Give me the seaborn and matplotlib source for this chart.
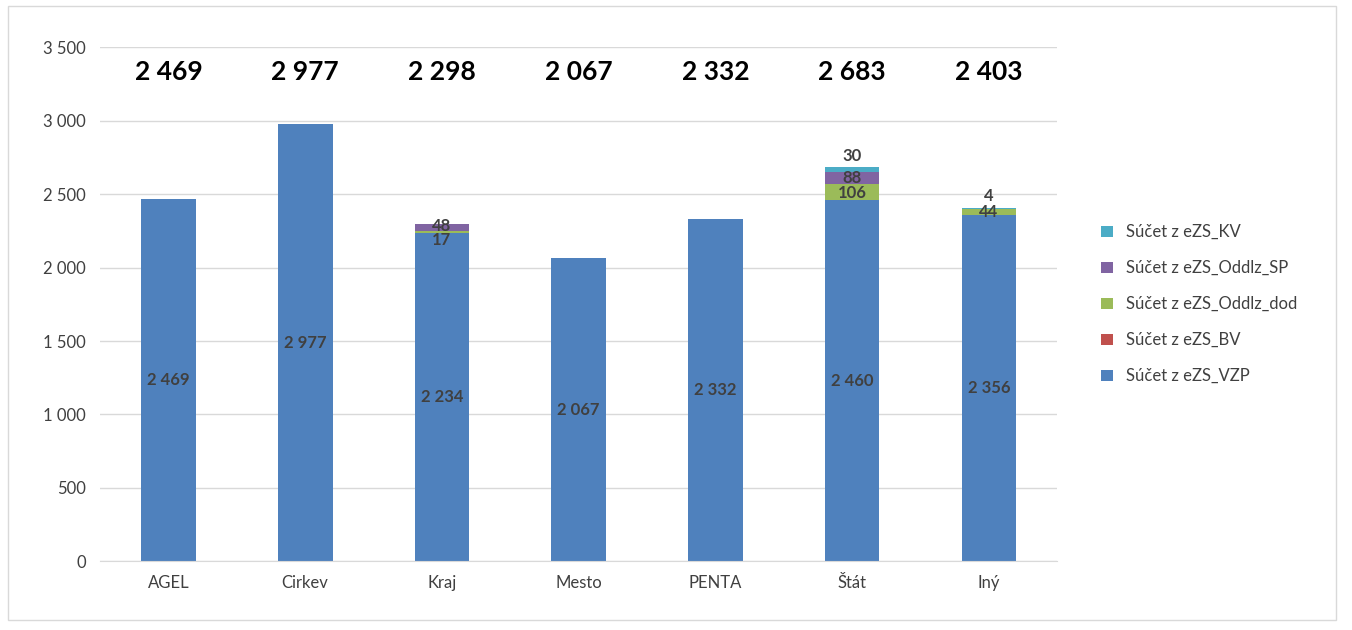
import matplotlib
matplotlib.use("Agg")
import matplotlib.pyplot as plt
import seaborn as sns
import numpy as np
import pandas as pd
from matplotlib.patches import Rectangle

categories = ["AGEL", "Cirkev", "Kraj", "Mesto", "PENTA", "Štát", "Iný"]
vzp = [2469, 2977, 2234, 2067, 2332, 2460, 2356]
bv = [0, 0, 0, 0, 0, 0, 0]
oddlz_dod = [0, 0, 17, 0, 0, 106, 44]
oddlz_sp = [0, 0, 48, 0, 0, 88, 0]
kv = [0, 0, 0, 0, 0, 30, 4]
totals = [2469, 2977, 2298, 2067, 2332, 2683, 2403]
series_names = ["Súčet z eZS_VZP", "Súčet z eZS_BV", "Súčet z eZS_Oddlz_dod",
                "Súčet z eZS_Oddlz_SP", "Súčet z eZS_KV"]
colors = ["#4F81BD", "#C0504D", "#9BBB59", "#8064A2", "#4BACC6"]

plt.rcParams["font.family"] = "Lato"
fig = plt.figure(figsize=(13.52, 6.3), dpi=100)
ax = fig.add_axes([0.074, 0.109, 0.708, 0.816])
fig.patches.append(Rectangle((0.006, 0.016), 0.982, 0.975, transform=fig.transFigure,
                             fill=False, edgecolor="#D9D9D9", lw=1))

series = [vzp, bv, oddlz_dod, oddlz_sp, kv]
bottom = np.zeros(len(categories))
handles = []
for name, vals, c in zip(series_names, series, colors):
    df = pd.DataFrame({"cat": categories, "val": vals})
    sns.barplot(data=df, x="cat", y="val", color=c, width=0.4, bottom=bottom,
                ax=ax, saturation=1, label=name)
    bottom = bottom + np.array(vals)

# segment labels
for i in range(len(categories)):
    ax.text(i, vzp[i] / 2, f"{vzp[i]:,}".replace(",", " "), ha="center", va="center",
            fontsize=12, fontweight="bold", color="#404040")
lab = {(2, 2): (17, 2190), (2, 3): (48, 2280), (5, 2): (106, 2510), (5, 3): (88, 2610),
       (5, 4): (30, 2760), (6, 2): (44, 2380), (6, 4): (4, 2490)}
for (i, s), (v, y) in lab.items():
    ax.text(i, y, str(v), ha="center", va="center", fontsize=12, fontweight="bold", color="#404040")
for i, t in enumerate(totals):
    ax.text(i, 3330, f"{t:,}".replace(",", " "), ha="center", va="center",
            fontsize=19, fontweight="bold", color="black")

ax.set_ylim(0, 3500)
ax.set_xlim(-0.5, 6.5)
ax.set_yticks(range(0, 3501, 500))
ax.set_yticklabels([f"{v:,}".replace(",", " ") for v in range(0, 3501, 500)])
ax.yaxis.grid(True, color="#D9D9D9", lw=1)
ax.set_axisbelow(True)
ax.set_xlabel("")
ax.set_ylabel("")
for s in ["top", "right", "left"]:
    ax.spines[s].set_visible(False)
ax.spines["bottom"].set_color("#D9D9D9")
ax.tick_params(axis="both", length=0, labelsize=12, colors="#404040", pad=10)

h, l = ax.get_legend_handles_labels()
leg = ax.legend(h[::-1], l[::-1], loc="center left", bbox_to_anchor=(1.03, 0.5),
                frameon=False, fontsize=12, handlelength=0.7, handleheight=0.7,
                labelspacing=1.2)
for t in leg.get_texts():
    t.set_color("#404040")
fig.savefig("out.png", dpi=100)
